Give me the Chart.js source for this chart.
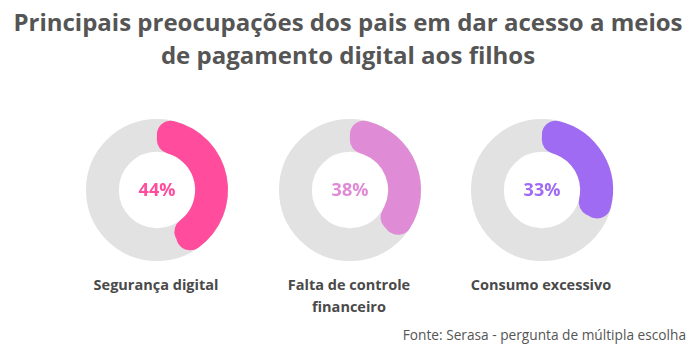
<!DOCTYPE html>
<html>
<head>
<meta charset="utf-8">
<script src="https://cdn.jsdelivr.net/npm/chart.js@4"></script>
<style>
  body { margin: 0; width: 696px; height: 350px; background: #fff; font-family: 'Open Sans', sans-serif; position: relative; overflow: hidden; }
  #title { position: absolute; left: 0; top: 5px; width: 696px; text-align: center; font-weight: 700; font-size: 24px; line-height: 33px; color: #555; }
  .donut { position: absolute; top: 110px; width: 160px; height: 160px; }
  .label { position: absolute; top: 274px; width: 180px; text-align: center; font-weight: 700; font-size: 14.5px; line-height: 22px; color: #4a4a4a; }
  #source { position: absolute; right: 10px; top: 325px; font-size: 13.7px; color: #555; }
</style>
</head>
<body>
<div id="title">Principais preocupações dos pais em dar acesso a meios<br>de pagamento digital aos filhos</div>
<div id="charts"></div>
<div id="source">Fonte: Serasa - pergunta de múltipla escolha</div>
<script>
// Data
const categories = ['Segurança digital', 'Falta de controle<br>financeiro', 'Consumo excessivo'];
const values = [44, 38, 33];
const colors = ['#ff4c9d', '#df8bd6', '#a06bf3'];
const centers = [157, 350, 542];

// Gray full ring behind the colored arc, plus the value in the middle
const trackPlugin = {
    id: 'track',
    beforeDatasetsDraw(chart) {
        const arc = chart.getDatasetMeta(0).data[0];
        const ctx = chart.ctx;
        const r = (arc.outerRadius + arc.innerRadius) / 2;
        ctx.save();
        ctx.beginPath();
        ctx.arc(arc.x, arc.y, r, 0, Math.PI * 2);
        ctx.lineWidth = arc.outerRadius - arc.innerRadius;
        ctx.strokeStyle = '#e2e2e2';
        ctx.stroke();
        ctx.restore();
    },
    afterDatasetsDraw(chart) {
        const arc = chart.getDatasetMeta(0).data[0];
        const ctx = chart.ctx;
        ctx.save();
        ctx.font = "700 18px 'Open Sans', sans-serif";
        ctx.fillStyle = chart.data.datasets[0].backgroundColor[0];
        ctx.textAlign = 'center';
        ctx.textBaseline = 'middle';
        ctx.fillText(chart.data.datasets[0].data[0] + '%', arc.x, arc.y + 1);
        ctx.restore();
    }
};

const wrap = document.getElementById('charts');
values.forEach((v, i) => {
    const box = document.createElement('div');
    box.className = 'donut';
    box.style.left = (centers[i] - 80) + 'px';
    const canvas = document.createElement('canvas');
    box.appendChild(canvas);
    wrap.appendChild(box);

    const lbl = document.createElement('div');
    lbl.className = 'label';
    lbl.style.left = (centers[i] - 91) + 'px';
    lbl.innerHTML = categories[i];
    document.body.appendChild(lbl);

    new Chart(canvas, {
        type: 'doughnut',
        data: {
            labels: ['valor', 'resto'],
            datasets: [{
                data: [v, 100 - v],
                backgroundColor: [colors[i], 'rgba(0,0,0,0)'],
                borderWidth: 0,
                borderRadius: ctx => ctx.dataIndex === 0 ? 14 : 0
            }]
        },
        options: {
            responsive: true,
            maintainAspectRatio: false,
            animation: false,
            radius: 71,
            cutout: 43,
            layout: { padding: 0 },
            plugins: { legend: { display: false }, tooltip: { enabled: false } }
        },
        plugins: [trackPlugin]
    });
});
</script>
</body>
</html>
